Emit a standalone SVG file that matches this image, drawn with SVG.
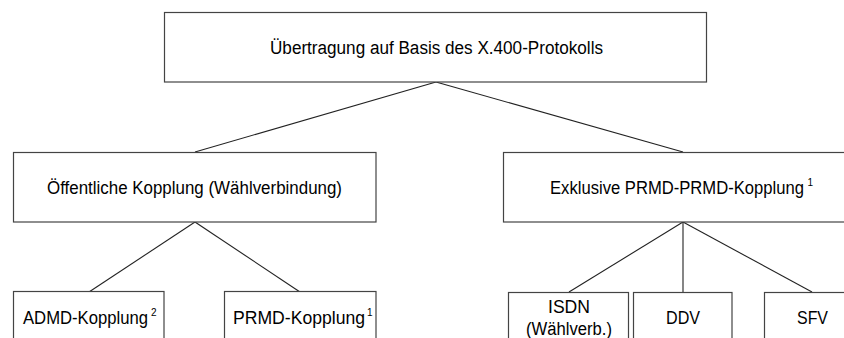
<svg xmlns="http://www.w3.org/2000/svg" width="844" height="338" viewBox="0 0 844 338">
<style>
.box{fill:#fff;stroke:#444;stroke-width:1.2}
.t{font-family:"Liberation Sans",Arial,sans-serif;font-size:18px;fill:#000;text-anchor:middle}
.l{text-anchor:start}
.s{font-size:10px}
.c{stroke:#222;stroke-width:1.1;fill:none}
</style>
<rect width="844" height="338" fill="#fff"/>
<g id="connectors">
<line class="c" x1="436" y1="82" x2="195" y2="152"/>
<line class="c" x1="436" y1="82" x2="683" y2="152"/>
<line class="c" x1="195" y1="222" x2="89" y2="292"/>
<line class="c" x1="195" y1="222" x2="300" y2="292"/>
<line class="c" x1="683" y1="222" x2="569" y2="292"/>
<line class="c" x1="683" y1="222" x2="683" y2="292"/>
<line class="c" x1="683" y1="222" x2="812" y2="292"/>
</g>
<g id="root">
<rect class="box" x="164.5" y="12.5" width="542" height="69.5"/>
<text class="t l" x="270" y="54" textLength="333" lengthAdjust="spacingAndGlyphs">Übertragung auf Basis des X.400-Protokolls</text>
</g>
<g id="oeffentlich">
<rect class="box" x="13.5" y="152.5" width="362.5" height="69.5"/>
<text class="t l" x="47" y="194" textLength="295" lengthAdjust="spacingAndGlyphs">Öffentliche Kopplung (Wählverbindung)</text>
</g>
<g id="exklusiv">
<rect class="box" x="503.5" y="152.5" width="360" height="69.5"/>
<text class="t l" x="550" y="194"><tspan textLength="254" lengthAdjust="spacingAndGlyphs">Exklusive PRMD-PRMD-Kopplung</tspan><tspan class="s" x="807.5" dy="-8">1</tspan></text>
</g>
<g id="admd">
<rect class="box" x="13.5" y="291.5" width="150.5" height="60"/>
<text class="t l" x="23" y="324"><tspan textLength="125" lengthAdjust="spacingAndGlyphs">ADMD-Kopplung</tspan><tspan class="s" x="151" dy="-8">2</tspan></text>
</g>
<g id="prmd">
<rect class="box" x="224.5" y="291.5" width="151.5" height="60"/>
<text class="t l" x="233" y="324"><tspan textLength="132" lengthAdjust="spacingAndGlyphs">PRMD-Kopplung</tspan><tspan class="s" x="367" dy="-8">1</tspan></text>
</g>
<g id="isdn">
<rect class="box" x="508.5" y="292.5" width="120" height="60"/>
<text class="t" x="569" y="313" textLength="42" lengthAdjust="spacingAndGlyphs">ISDN</text>
<text class="t" x="569" y="335" textLength="86" lengthAdjust="spacingAndGlyphs">(Wählverb.)</text>
</g>
<g id="ddv">
<rect class="box" x="633.5" y="292.5" width="98.5" height="60"/>
<text class="t" x="683" y="324" textLength="34" lengthAdjust="spacingAndGlyphs">DDV</text>
</g>
<g id="sfv">
<rect class="box" x="764.5" y="292.5" width="100" height="60"/>
<text class="t" x="812.5" y="324" textLength="31" lengthAdjust="spacingAndGlyphs">SFV</text>
</g>
</svg>
